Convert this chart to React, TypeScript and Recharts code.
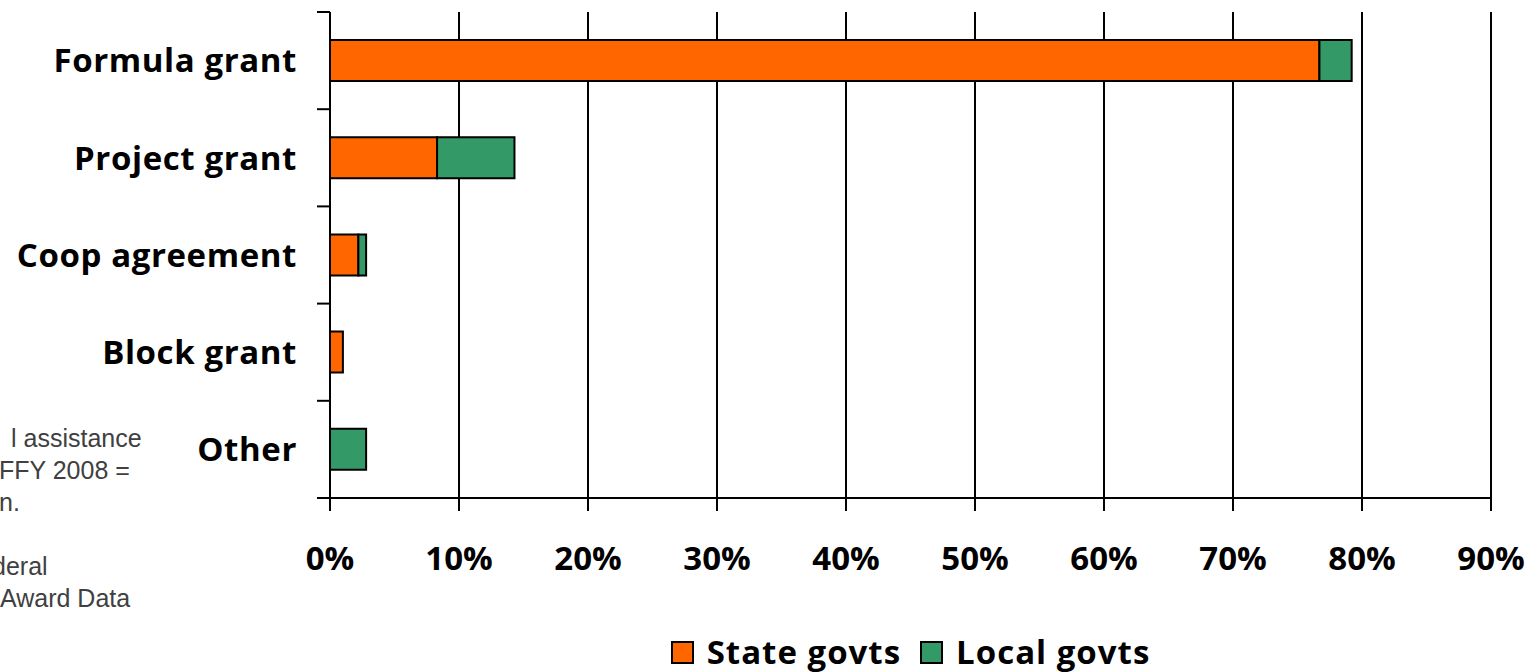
import React from "react";
import {
  BarChart,
  Bar,
  XAxis,
  YAxis,
  CartesianGrid,
  Legend,
} from "recharts";

const categories = [
  "Formula grant",
  "Project grant",
  "Coop agreement",
  "Block grant",
  "Other",
];
const stateGovts = [76.7, 8.3, 2.2, 1.0, 0];
const localGovts = [2.5, 6.0, 0.6, 0, 2.8];
const xTicks = [0, 10, 20, 30, 40, 50, 60, 70, 80, 90];
const noteLines = [
  { text: "l assistance", left: 11 },
  { text: "FFY 2008 =", left: -1 },
  { text: "n.", left: -1 },
  { text: "", left: 0 },
  { text: "deral", left: -8 },
  { text: "Award Data", left: 0 },
];

const STATE_COLOR = "#FF6600";
const LOCAL_COLOR = "#339966";
const LABEL_FONT = "'Open Sans', sans-serif";
const Y_TICK_MARGIN = 33;
const Y_TICK_LEN = 13;

const data = categories.map((name, i) => ({
  name,
  state: stateGovts[i],
  local: localGovts[i],
}));

const legendItems = [
  { label: "State govts", color: STATE_COLOR },
  { label: "Local govts", color: LOCAL_COLOR },
];

function LegendContent() {
  return (
    <div
      style={{
        display: "flex",
        justifyContent: "center",
        alignItems: "center",
        fontFamily: LABEL_FONT,
        fontWeight: 700,
        fontSize: 33,
        letterSpacing: 1,
        color: "#000",
        lineHeight: "40px",
      }}
    >
      {legendItems.map((item, i) => (
        <div
          key={item.label}
          style={{ display: "flex", alignItems: "center", marginLeft: i ? 19 : 0 }}
        >
          <span
            style={{
              width: 19,
              height: 19,
              background: item.color,
              border: "2px solid #000",
              marginRight: 13,
              display: "inline-block",
            }}
          />
          <span>{item.label}</span>
        </div>
      ))}
    </div>
  );
}

const tickFont = {
  fontFamily: LABEL_FONT,
  fontWeight: 700,
  fontSize: 33,
  fill: "#000",
};

// category label plus tick marks on the band edges (Excel style)
function CategoryTick(props: any) {
  const { x, y, payload, index, visibleTicksCount } = props;
  const half = payload?.offset ?? 0;
  const axisX = x + Y_TICK_MARGIN;
  const isLast = index === visibleTicksCount - 1;
  return (
    <g>
      <line
        x1={axisX - Y_TICK_LEN}
        x2={axisX}
        y1={y - half}
        y2={y - half}
        stroke="#000"
        strokeWidth={2}
      />
      {isLast && (
        <line
          x1={axisX - Y_TICK_LEN}
          x2={axisX}
          y1={y + half}
          y2={y + half}
          stroke="#000"
          strokeWidth={2}
        />
      )}
      <text
        x={x}
        y={y}
        dy="0.355em"
        textAnchor="end"
        letterSpacing={0.6}
        {...tickFont}
      >
        {payload.value}
      </text>
    </g>
  );
}

export default function App() {
  return (
    <div style={{ position: "absolute", left: 0, top: 0, width: 1540, height: 672 }}>
      <div
        style={{
          position: "absolute",
          left: 0,
          top: 422,
          width: 200,
          overflow: "hidden",
          fontFamily: "'Liberation Sans', Arial, sans-serif",
          fontSize: 25,
          lineHeight: "32px",
          color: "#404040",
          whiteSpace: "pre",
        }}
      >
        {noteLines.map((l, i) => (
          <div key={i} style={{ position: "relative", left: l.left, height: 32 }}>
            {l.text}
          </div>
        ))}
      </div>
      <BarChart
        width={1540}
        height={672}
        data={data}
        layout="vertical"
        barSize={41}
        margin={{ top: 12, right: 49, left: 0, bottom: 34 }}
      >
        <CartesianGrid horizontal={false} stroke="#000" strokeWidth={2} />
        <XAxis
          type="number"
          domain={[0, 90]}
          ticks={xTicks}
          interval={0}
          tickFormatter={(v) => `${v}%`}
          height={100}
          axisLine={{ stroke: "#000", strokeWidth: 2 }}
          tickLine={{ stroke: "#000", strokeWidth: 2 }}
          tickSize={13}
          tickMargin={36}
          tick={tickFont}
        />
        <YAxis
          type="category"
          dataKey="name"
          width={330}
          interval={0}
          axisLine={{ stroke: "#000", strokeWidth: 2 }}
          tickLine={false}
          tickSize={0}
          tickMargin={Y_TICK_MARGIN}
          tick={<CategoryTick />}
        />
        <Legend
          verticalAlign="bottom"
          height={40}
          content={<LegendContent />}
          wrapperStyle={{ top: 632, bottom: "auto", left: 330, width: 1161 }}
        />
        <Bar
          dataKey="state"
          stackId="a"
          fill={STATE_COLOR}
          stroke="#000"
          strokeWidth={2}
          isAnimationActive={false}
        />
        <Bar
          dataKey="local"
          stackId="a"
          fill={LOCAL_COLOR}
          stroke="#000"
          strokeWidth={2}
          isAnimationActive={false}
        />
      </BarChart>
    </div>
  );
}
